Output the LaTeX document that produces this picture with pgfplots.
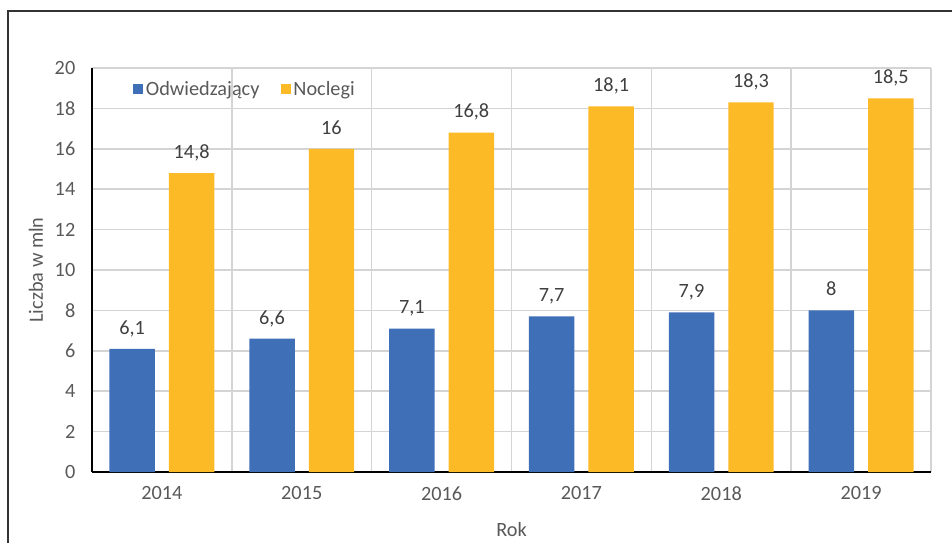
\documentclass[border=0pt]{standalone}
\usepackage{pgfplots}
\pgfplotsset{compat=1.18}
\usepackage{fontspec}
\setmainfont{Carlito}
\definecolor{cblue}{HTML}{3F6FB7}
\definecolor{cgold}{HTML}{FDBA27}
\definecolor{cgrid}{HTML}{D4D4D4}
\definecolor{ctick}{HTML}{595959}
\definecolor{clab}{HTML}{404040}
\definecolor{cframe}{HTML}{333333}
\newcommand{\chartfont}{\fontsize{15.2}{18}\selectfont}
\begin{document}
\begin{tikzpicture}
\useasboundingbox (0,0) rectangle (714pt,407.25pt);
\draw[cframe, line width=0.9pt] (6pt,0) -- (6pt,399pt) -- (714pt,399pt);
\begin{axis}[
  at={(69pt,53.25pt)}, anchor=south west,
  scale only axis, width=629.25pt, height=303pt,
  ybar=10.5pt, bar width=34.1pt,
  xmin=-0.5, xmax=5.5, ymin=0, ymax=20,
  xtick={0,1,2,3,4,5},
  xticklabels={2014,2015,2016,2017,2018,2019},
  minor xtick={-0.5,0.5,1.5,2.5,3.5,4.5,5.5},
  ytick={0,2,...,20},
  ymajorgrids, xminorgrids,
  grid style={cgrid, line width=1.2pt},
  minor grid style={cgrid, line width=1.2pt},
  major tick length=0pt, minor tick length=0pt,
  axis x line*=bottom, axis y line*=left,
  axis line style={black, line width=1pt, -},
  /pgf/number format/assume math mode=true,
  /pgf/number format/use comma,
  ticklabel style={font=\chartfont, text=ctick},
  yticklabel style={xshift=-9pt},
  xticklabel style={yshift=-7.6pt},
  xlabel={Rok}, ylabel={Liczba w mln},
  label style={font=\chartfont, text=ctick},
  xlabel style={at={(axis description cs:0.5,0)}, anchor=center, yshift=-43.5pt},
  ylabel style={at={([xshift=-42pt]axis description cs:0,0.5)}, anchor=center, rotate=0},
  nodes near coords,
  every node near coord/.append style={font=\chartfont, text=clab, anchor=base, yshift=11pt},
  legend style={draw=none, fill=none, at={(rel axis cs:0.044,0.948)}, anchor=west,
    font=\chartfont, text=ctick, legend columns=2,
    /tikz/every even column/.append style={column sep=14pt}},
  legend image code/.code={\fill[#1] (0pt,-3.75pt) rectangle (7.5pt,3.75pt);},
]
\addplot[fill=cblue, draw=none] coordinates {(0,6.1) (1,6.6) (2,7.1) (3,7.7) (4,7.9) (5,8)};
\addplot[fill=cgold, draw=none] coordinates {(0,14.8) (1,16) (2,16.8) (3,18.1) (4,18.3) (5,18.5)};
\legend{Odwiedzający, Noclegi}
\end{axis}
\end{tikzpicture}
\end{document}
